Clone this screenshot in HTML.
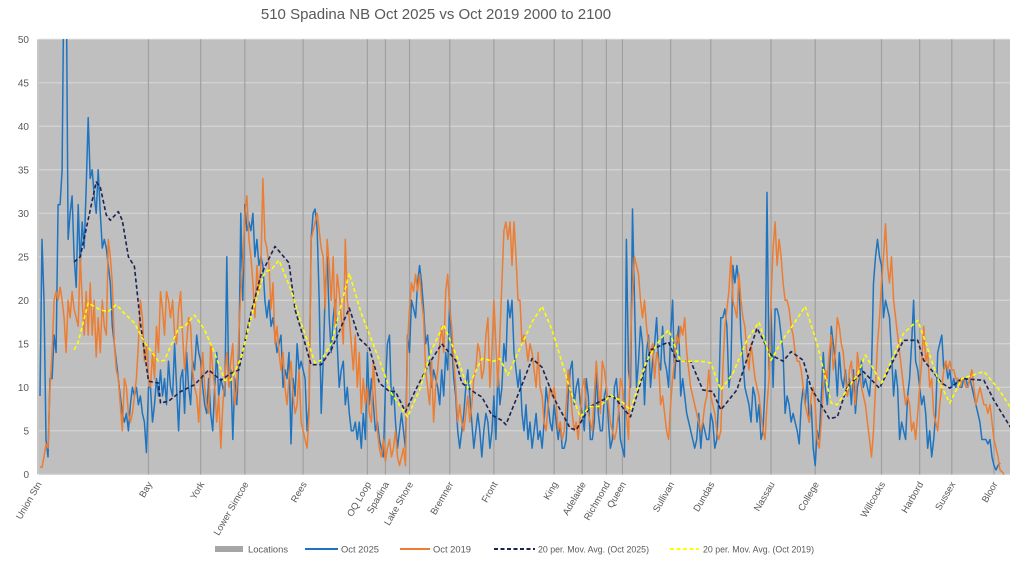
<!DOCTYPE html>
<html><head><meta charset="utf-8">
<style>
html,body{margin:0;padding:0;background:#fff;}
svg{display:block;font-family:"Liberation Sans",sans-serif;}
</style></head>
<body>
<svg id="chart" width="1024" height="564" viewBox="0 0 1024 564" xmlns="http://www.w3.org/2000/svg">
<defs><clipPath id="plotclip"><rect x="39" y="39" width="971" height="436"/></clipPath></defs>
<text x="436" y="19" text-anchor="middle" font-size="15" fill="#595959">510 Spadina NB Oct 2025 vs Oct 2019 2000 to 2100</text>
<rect x="39" y="39" width="971" height="436" fill="#bfbfbf"/>
<g id="grid"></g>
<g id="yaxis"></g>
<g id="locs"></g>
<g id="xaxis"></g>
<g id="series" clip-path="url(#plotclip)"></g>
<g id="legend"></g>
</svg>
<script>
const blue=[9,27,20,4,2,11,11,16,14,31,31,35,60,60,27,30,32,25,21.5,31,24,29,26,33,41,34,35,32,30,35,30,26,27,26,24,22,17,15,13,11,9,7,6,7,5,8,10,9,10,8,9,7,6,2.5,10,10,6,8,11,9,12,9,11,8,13,10,9,15,10,5,11,12,7,14,10,8,13,12,16,14,13,10,8,7,11,7,5,10,14,9,11,10,9,25,10,12,4,11,8,13,30,20,31,28,29,28,30,25,27,24,25,24,20,18,20,17,18,16,14,15,16,10,12,11,14,3.5,11,9,15,12,13,12,11,5,8,27,30,30.5,28,20,7,13,21,25,18,14,18,20,15,10,12,13,8,10,7,5,5,6,4,6,3,7,4,14,8,11,8,5,6,4,3,2,10,15,16,8,10,6,3,5,7,5,3,16,14,20,19,18,22,24,22,19,15,16,13,10,12,11,10,8,12,9,14,12,20,15,11,9,5,3,5,7,10,12,9,6,3,5,7,5,2,5,7,6,3,5,9,4,12,8,10,15,13,20,
18,20,14,12,10,12,7,5,8,4,6,3,5,7,4,5,3,6,10,8,6,5,8,6,4,6,3,3,4,9,12,13,8,10,11,8,7,5,11,9,4,4,6,12,7,5,5,9,10,6,3,4,10,11,8,4,3,2,27,12,10,30.5,20,10,13,17,15,8,14,16,10,13,15,18,13,12,17,13,12,10,16,20,11,15,17,9,11,9,7,6,5,4,3,4,7,3,6,5,4,4,7,6,3,4,9,18,18,19,17,10,12,24,22,24,22,16,13,10,9,8,6,10,9,6,8,4,5,10,32.4,12,19,10,19,19,18,16,14,7,9,8,6,7,6,5,3.5,8,10,8,11,6,8,3,1,5,4,9,14,10,8,11,17,15,13,9,14,11,10,12,9,11,8,12,7,10,11,13,10,11,10,9,12,22,25,27,25,24,18,20,19,18,14,9,12,10,4,6,5,4,9,11,15,20,13,12,10,8,9,7,3,5,2,4,7,14,15,16,12,13,11,12,10,11,10,11,10,10,11,11,10,11,10,9,8,7,6,4,4,4,3.5,4,2,1,0.5,1,1.3];
const orange=[0.8,0.8,2,3.5,3,10,14,20,21,20,21.5,20,18,14,20,18,21,19,18,17,25,20,16,21,16,22,16,20,13.5,18,14,20,17,16,27,25,22,15,12,11,8,5,11,10,7,6,7,9,11,15,20,18,13,15,11,10,14,11,17,14,21,19,16,21,20,18,20,16,15,19,21,16,12,15,18,17,12,10,9,6,11,14,10,8,7,15,12,10,6,9,3,8,11,14,10,13,15,8,10,16,21,24,30,32,27,25,22,18,24,21,24,34,27,26,24,19,22,15,17,14,12,14,10,8,11,13,9,7,8,12,6,5,4,3,7,27,28,29,30,28,26,25,19,27,24,20,25,17,23,21,18,15,27,20,18,15,12,16,10,14,7,11,8,10,7,6,13,9,5,3,2,4,1.5,3,4,2,3,5,2,1,2,3,1,15,19,22,21,23,21,23,20,18,12,10,8,13,6,10,12,15,17,14,21,23,19,17,13,10,6,8,6,5,7,9,6,8,11,12,15,14,11,12,16,18,10,14,20,15,10,16,22,28,29,27,
29,24,29,25,20,20,15,16,15,13,15,14,12,10,14,10,9,6,5,8,10,9,10,8,5,6,4,5,8,12,10,7,5,6,4,7,10,11,8,7,6,5,9,13,10,7,13,12,10,8,6,5,4,5,7,11,10,8,7,4,15,21,25,24,23,20,18,20,17,15,14,15,11,14,13,8,9,7,5,4,8,11,13,16,15,17,16,18,14,12,10,9,8,7,6,5,6,8,9,12,9,8,7,5,4,5,12,17,19,21,25,20,19,18,23,20,18,17,14,12,15,13,11,10,9,7,5,4,8,11,20,26,29,24,27,25,22,20,20,19,17,16,14,13,13,12,10,8,7,6,9,10,8,4,3,6,10,12,11,14,16,12,14,18,17,15,14,11,9,12,13,10,8,14,12,10,9,8,6,4,2,5,10,15,18,22,25,28.8,24,22,25,20,18,16,14,12,10,8,9,8,5,6,4,7,10,13,17,13,14,10,11,7,6,5,8,10,12,13,12,13,12,12,11,11,10,11,11,10,10,11,12,10,8,9,10,9,8,8,7,8,6,4,3,2,0.5,0.3,0];
const ma25Idx=[17,20,28,30,33,35,39,41,44,47,50,54,59,60,64,70,77,84,90,95,99,105,110,117,124,127,130,135,140,145,154,159,164,169,174,177,182,187,194,200,207,210,217,220,225,230,232,240,245,250,256,264,267,274,285,294,299,304,313,317,324,330,335,339,347,357,364,370,374,380,384,393,397,402,410,418,430,437,440,449,453,459,470,475,484];
const ma25Val=[24.4,25,33.6,33,29.8,29.2,30.2,29.2,25,23.9,17.4,10.7,10.5,8.2,8.4,9.5,10.3,12,10.8,11.6,12,18.5,22.9,26.2,24.3,18.9,16.6,12.6,12.6,14.3,19.1,15.6,14.5,10.5,9.5,9.5,7.2,9.7,12.8,15,13.1,10.5,9.3,8.9,6.8,6.2,5.7,10.3,13.3,12.3,8.7,5.3,5.1,7.8,9.1,6.6,10.5,14.3,15.2,13,13,9.7,9.5,7.4,9.7,16.8,13.7,13,14.1,13.1,9.9,6.4,6.6,10.1,11.8,9.9,15.4,15.4,13.1,10.5,9.9,11,10.8,8.5,5.1];
const ma19Idx=[17,19,24,30,34,38,42,47,52,59,62,69,72,77,82,87,92,95,100,107,112,115,119,125,130,137,140,145,154,160,169,175,183,189,195,201,208,213,220,226,229,233,240,245,250,255,264,269,274,279,284,289,294,302,309,313,319,324,329,334,339,345,352,358,364,369,375,381,387,394,397,404,407,411,419,424,430,437,440,447,453,459,470,477,484];
const ma19Val=[14.3,15.2,19.7,18.9,18.7,19.5,18.5,17.4,15.2,13,13.1,16.8,17,18.3,16.6,13.9,10.8,10.8,13.3,19.7,23.3,23.5,24.6,21.2,17.4,12.8,13.1,15,23.1,18.5,13.1,9.3,6.6,9.7,14.3,17.2,13.3,9.9,13.3,13,13.3,11.4,15,17.5,19.3,16.6,9.7,6.6,7.8,7.8,9.1,8.5,7.4,13,15.6,16.6,13,13,13,12.8,9.7,11.6,15.4,17.5,13.1,15.2,17.2,19.3,15,8.2,8,10.5,11.4,13.7,10.5,13.1,16.2,17.7,15.8,11,8.2,11,11.8,9.9,7.4];
const locNames=["Union Stn","Bay","York","Lower Simcoe","Rees","OQ Loop","Spadina","Lake Shore","Bremner","Front","King","Adelaide","Richmond","Queen","Sullivan","Dundas","Nassau","College","Willcocks","Harbord","Sussex","Bloor"];
const locIdx=[-1,54,80,102,131,163,172,184,204,226,256,270,282,290,314,334,364,386,419,438,454,475];
const yTicks=[0,5,10,15,20,25,30,35,40,45,50];

const NS="http://www.w3.org/2000/svg";
const X0=40,X1=1000,Y0=474.3,YTOP=39.3,YMAX=50;
function xs(i){return X0+i*(X1-X0)/(blue.length-1);}
function ys(v){return Y0-(v/YMAX)*(Y0-YTOP);}
function mk(tag,attrs,parent){const e=document.createElementNS(NS,tag);for(const k in attrs)e.setAttribute(k,attrs[k]);parent.appendChild(e);return e;}

const grid=document.getElementById('grid'),yax=document.getElementById('yaxis');
yTicks.forEach(t=>{
  const g=mk('line',{x1:39,x2:1010,y1:ys(t),y2:ys(t),stroke:'#d9d9d9','stroke-width':1},grid);
  
  
  const l=mk('text',{x:29,y:ys(t)+3.5,'text-anchor':'end','font-size':10,fill:'#595959'},yax);
  l.textContent=t;
  
  
});
const locs=document.getElementById('locs'),xax=document.getElementById('xaxis');
locNames.forEach((n,k)=>{
  const x=xs(locIdx[k]);
  const b=mk('rect',{x:x-0.6,y:YTOP,width:1.2,height:Y0-YTOP,fill:'#a0a0a0'},locs);
  
  
  const t=mk('text',{x:x+4,y:484,'text-anchor':'end','font-size':9.5,fill:'#595959',transform:'rotate(-60 '+(x+4)+' 484)'},xax);
  t.textContent=n;
  
  
});
const ser=document.getElementById('series');
function poly(vals,idx,color,w,dash,name){
  const pts=vals.map((v,i)=>xs(idx?idx[i]:i).toFixed(1)+','+ys(v).toFixed(1)).join(' ');
  const p=mk('polyline',{points:pts,fill:'none',stroke:color,'stroke-width':w,'stroke-linejoin':'round'},ser);
  if(dash)p.setAttribute('stroke-dasharray',dash);
  
  
}
poly(blue,null,'#1f74c0',1.5,null,'series-oct-2025');
poly(orange,null,'#ed7d31',1.5,null,'series-oct-2019');
poly(ma25Val,ma25Idx,'#1c2452',1.6,'4 2.5','moving-avg-oct-2025');
poly(ma19Val,ma19Idx,'#ffff00',1.6,'4 2.5','moving-avg-oct-2019');

const lg=document.getElementById('legend');
const ly=549;
const e1=mk('rect',{x:215,y:ly-3,width:28,height:6,fill:'#a6a6a6'},lg);


const entries=[
 {x1:305,x2:338,tx:341,c:'#1f74c0',d:null,t:'Oct 2025',n:'oct-2025',tl:38},
 {x1:400,x2:430,tx:433,c:'#ed7d31',d:null,t:'Oct 2019',n:'oct-2019',tl:38},
 {x1:494,x2:535,tx:538,c:'#1c2452',d:'4 2.5',t:'20 per. Mov. Avg. (Oct 2025)',n:'ma-2025',tl:111},
 {x1:670,x2:699,tx:703,c:'#ffff00',d:'4 2.5',t:'20 per. Mov. Avg. (Oct 2019)',n:'ma-2019',tl:111}
];
const lt=mk('text',{x:248,y:ly+3.5,'font-size':9.5,fill:'#595959',textLength:40,lengthAdjust:'spacingAndGlyphs'},lg);
lt.textContent='Locations';


entries.forEach(en=>{
  const l=mk('line',{x1:en.x1,x2:en.x2,y1:ly,y2:ly,stroke:en.c,'stroke-width':2},lg);
  if(en.d)l.setAttribute('stroke-dasharray',en.d);
  
  
  const t=mk('text',{x:en.tx,y:ly+3.5,'font-size':9.5,fill:'#595959',textLength:en.tl,lengthAdjust:'spacingAndGlyphs'},lg);
  t.textContent=en.t;
  
  
});
</script>
</body></html>
